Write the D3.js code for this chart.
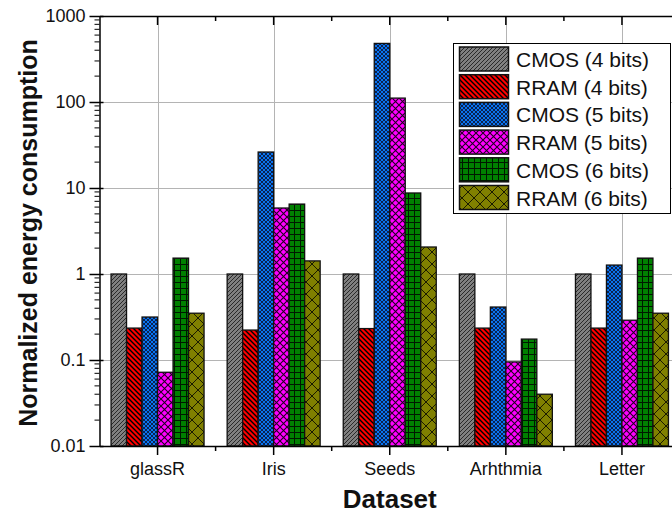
<!DOCTYPE html>
<html><head><meta charset="utf-8">
<script src="https://cdn.jsdelivr.net/npm/d3@7"></script>
<style>body{margin:0;background:#fff}svg{display:block}text{font-family:"Liberation Sans",Arial,sans-serif}</style>
</head><body>
<svg id="c" width="672" height="514"></svg>
<script>
const categories = ["glassR","Iris","Seeds","Arhthmia","Letter"];
const seriesNames = ["CMOS (4 bits)","RRAM (4 bits)","CMOS (5 bits)","RRAM (5 bits)","CMOS (6 bits)","RRAM (6 bits)"];
const cmos4 = [1, 1, 1, 1, 1];
const rram4 = [0.235, 0.223, 0.232, 0.235, 0.235];
const cmos5 = [0.316, 26.2, 480, 0.413, 1.27];
const rram5 = [0.072, 5.85, 111, 0.095, 0.29];
const cmos6 = [1.53, 6.5, 8.75, 0.175, 1.53];
const rram6 = [0.35, 1.42, 2.06, 0.040, 0.35];
const yTickValues = [0.01, 0.1, 1, 10, 100, 1000];
const yTickLabels = ["0.01","0.1","1","10","100","1000"];
const xTitle = "Dataset";
const yTitle = "Normalized energy consumption";

const seriesValues = [cmos4, rram4, cmos5, rram5, cmos6, rram6];
const fills = ["#808080","#ff0000","#0a74f0","#ff00ff","#008000","#808000"];

const svg = d3.select("#c");
const L = 99.5, R = 680, T = 16, B = 446;

// patterns
const defs = svg.append("defs");
function pat(id, size, color, draw){
  const p = defs.append("pattern").attr("id", id).attr("patternUnits","userSpaceOnUse")
    .attr("width", size).attr("height", size);
  p.append("rect").attr("width", size).attr("height", size).attr("fill", color);
  draw(p, size);
}
pat("p0", 4, fills[0], (p,s)=>{
  p.append("path").attr("d",`M0,${s} L${s},0 M${-s/2},${s/2} L${s/2},${-s/2} M${s/2},${s*1.5} L${s*1.5},${s/2}`)
   .attr("stroke","#2a2a2a").attr("stroke-width",1);
});
pat("p1", 5, fills[1], (p,s)=>{
  p.append("path").attr("d",`M0,0 L${s},${s} M${-s/2},${s/2} L${s/2},${s*1.5} M${s/2},${-s/2} L${s*1.5},${s/2}`)
   .attr("stroke","#000").attr("stroke-width",1.4);
});
pat("p2", 4, fills[2], (p,s)=>{
  p.append("path").attr("d",`M0,0 L${s},${s} M0,${s} L${s},0`)
   .attr("stroke","#0a1a40").attr("stroke-width",0.9);
});
pat("p3", 7, fills[3], (p,s)=>{
  p.append("path").attr("d",`M0,0 L${s},${s} M0,${s} L${s},0`)
   .attr("stroke","#200020").attr("stroke-width",1.1);
});
pat("p4", 6, fills[4], (p,s)=>{
  p.append("path").attr("d",`M0,0.5 L${s},0.5 M0.5,0 L0.5,${s}`)
   .attr("stroke","#001800").attr("stroke-width",1);
});
pat("p5", 12, fills[5], (p,s)=>{
  p.append("path").attr("d",`M0,0 L${s},${s} M0,${s} L${s},0`)
   .attr("stroke","#1a1a00").attr("stroke-width",1);
});

const x = d3.scaleBand().domain(categories).range([L, R]).paddingInner(0).paddingOuter(0);
const groupW = 93;
const xs = d3.scaleBand().domain(d3.range(seriesNames.length)).range([0, groupW]);
const y = d3.scaleLog().domain([0.01, 1000]).range([B, T]);

// grid
const g = svg.append("g");
g.selectAll(".hg").data(yTickValues.slice(1,-1)).join("line")
  .attr("x1", L).attr("x2", R).attr("y1", d=>Math.round(y(d))+0.5).attr("y2", d=>Math.round(y(d))+0.5)
  .attr("stroke","#b4b4b4").attr("stroke-width",1);
g.selectAll(".vg").data(categories).join("line")
  .attr("y1", T).attr("y2", B).attr("x1", d=>Math.round(x(d)+x.bandwidth()/2)+0.5).attr("x2", d=>Math.round(x(d)+x.bandwidth()/2)+0.5)
  .attr("stroke","#b4b4b4").attr("stroke-width",1);

// bars
seriesValues.forEach((vals, si)=>{
  svg.append("g").selectAll("rect").data(vals).join("rect")
    .attr("x", (d,i)=> x(categories[i]) + (x.bandwidth()-groupW)/2 + xs(si))
    .attr("width", xs.bandwidth())
    .attr("y", d=> y(d))
    .attr("height", d=> B - y(d))
    .attr("fill", `url(#p${si})`)
    .attr("stroke", "#111").attr("stroke-width", 1.3);
});

// axes
const fontTick = "18px";
const xAxis = d3.axisBottom(x).tickSize(9).tickSizeOuter(0);
const gx = svg.append("g").attr("transform",`translate(0,${B})`).call(xAxis);
gx.select(".domain").attr("stroke","#000").attr("stroke-width",1.5);
gx.selectAll(".tick line").attr("stroke","#000").attr("stroke-width",1.5);
gx.selectAll(".tick text").attr("font-size",fontTick).attr("fill","#111").attr("dy","0").attr("y",29);
// minor x ticks at boundaries
svg.append("g").selectAll("line").data(categories.slice(1)).join("line")
  .attr("x1", d=>x(d)).attr("x2", d=>x(d)).attr("y1", B).attr("y2", B+5)
  .attr("stroke","#000").attr("stroke-width",1.5);
// top axis
const gt = svg.append("g").attr("transform",`translate(0,${T})`).call(d3.axisTop(x).tickSize(-9).tickSizeOuter(0).tickFormat(""));
gt.select(".domain").attr("stroke","#000").attr("stroke-width",1.5);
gt.selectAll(".tick line").attr("stroke","#000").attr("stroke-width",1.5);
svg.append("g").selectAll("line").data(categories.slice(1)).join("line")
  .attr("x1", d=>x(d)).attr("x2", d=>x(d)).attr("y1", T).attr("y2", T+5)
  .attr("stroke","#000").attr("stroke-width",1.5);

const yAxis = d3.axisLeft(y).tickValues(yTickValues).tickSize(10).tickSizeOuter(0)
  .tickFormat((d,i)=>yTickLabels[i]);
const gy = svg.append("g").attr("transform",`translate(${L},0)`).call(yAxis);
gy.select(".domain").attr("stroke","#000").attr("stroke-width",1.5);
gy.selectAll(".tick line").attr("stroke","#000").attr("stroke-width",1.5).attr("x2",4).attr("x1",-10);
gy.selectAll(".tick text").attr("font-size",fontTick).attr("fill","#111").attr("x",-14);
const minor = y.ticks().filter(v => !yTickValues.some(t=>Math.abs(t-v)/t<1e-9));
svg.append("g").selectAll("line").data(minor).join("line")
  .attr("x1", L-5).attr("x2", L).attr("y1", d=>y(d)).attr("y2", d=>y(d))
  .attr("stroke","#000").attr("stroke-width",1);

// titles
svg.append("text").attr("x", (L+R)/2).attr("y", 508).attr("text-anchor","middle")
  .attr("font-size","26px").attr("font-weight","bold").attr("fill","#111").text(xTitle);
svg.append("text").attr("transform",`translate(37,${(T+B)/2+2}) rotate(-90)`).attr("text-anchor","middle")
  .attr("font-size","25px").attr("font-weight","bold").attr("fill","#111").text(yTitle);

// legend
const lg = svg.append("g");
lg.append("rect").attr("x",453.5).attr("y",43.5).attr("width",217).attr("height",170)
  .attr("fill","#fff").attr("stroke","#000").attr("stroke-width",1);
seriesNames.forEach((n,i)=>{
  const yy = 47 + i*27.7;
  lg.append("rect").attr("x",459.5).attr("y",yy).attr("width",49).attr("height",24)
    .attr("fill",`url(#p${i})`).attr("stroke","#111").attr("stroke-width",1.5);
  lg.append("text").attr("x",516).attr("y",yy+20).attr("font-size","21px").attr("fill","#111").text(n);
});
</script>
</body></html>
